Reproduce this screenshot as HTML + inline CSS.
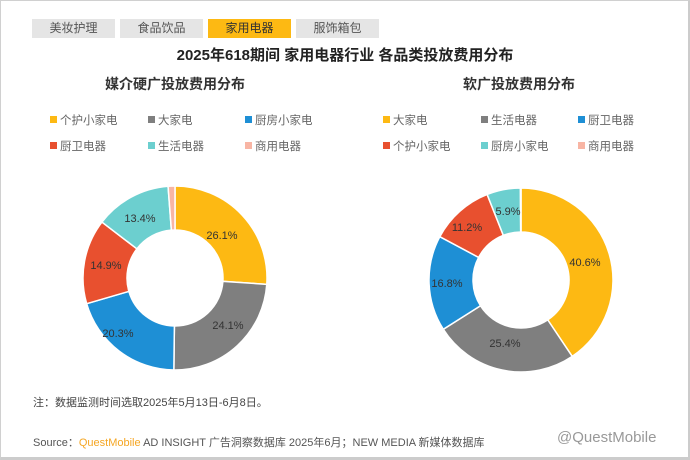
<!DOCTYPE html>
<html><head><meta charset="utf-8"><style>
body{margin:0;width:690px;height:460px;background:#fff;overflow:hidden;font-family:"Liberation Sans","Noto Sans CJK SC",sans-serif;position:relative}
.frame{position:absolute;left:0;top:0;width:687px;height:456px;border:1px solid #d0d0d0;border-right:3px solid #ccc;border-bottom:3px solid #ccc}
.t{position:absolute;white-space:nowrap}
.tab{position:absolute;top:19px;width:83px;height:19px;background:#e5e5e5;color:#555;font-size:12px;text-align:center;line-height:19px}
.lg{position:absolute;font-size:11.5px;color:#666;white-space:nowrap}
.lg i{display:inline-block;width:7px;height:7px;margin-right:3px;vertical-align:1px}
</style></head><body>
<div class="frame"></div>
<div class="tab" style="left:32px">美妆护理</div>
<div class="tab" style="left:120px">食品饮品</div>
<div class="tab" style="left:208px;background:#FDB913;color:#333">家用电器</div>
<div class="tab" style="left:296px">服饰箱包</div>
<div class="t" style="left:0;width:690px;text-align:center;top:44px;font-size:15px;color:#222;font-weight:600">2025年618期间 家用电器行业 各品类投放费用分布</div>
<div class="t" style="left:105px;top:74px;font-size:14px;color:#333;font-weight:600">媒介硬广投放费用分布</div>
<div class="t" style="left:463px;top:74px;font-size:14px;color:#333;font-weight:600">软广投放费用分布</div>
<div class="lg" style="left:50px;top:112px"><i style="background:#FDB913"></i>个护小家电</div>
<div class="lg" style="left:148px;top:112px"><i style="background:#7f7f7f"></i>大家电</div>
<div class="lg" style="left:245px;top:112px"><i style="background:#1E8FD5"></i>厨房小家电</div>
<div class="lg" style="left:50px;top:138px"><i style="background:#E8502F"></i>厨卫电器</div>
<div class="lg" style="left:148px;top:138px"><i style="background:#6CCFCF"></i>生活电器</div>
<div class="lg" style="left:245px;top:138px"><i style="background:#F8B5A4"></i>商用电器</div>
<div class="lg" style="left:383px;top:112px"><i style="background:#FDB913"></i>大家电</div>
<div class="lg" style="left:481px;top:112px"><i style="background:#7f7f7f"></i>生活电器</div>
<div class="lg" style="left:578px;top:112px"><i style="background:#1E8FD5"></i>厨卫电器</div>
<div class="lg" style="left:383px;top:138px"><i style="background:#E8502F"></i>个护小家电</div>
<div class="lg" style="left:481px;top:138px"><i style="background:#6CCFCF"></i>厨房小家电</div>
<div class="lg" style="left:578px;top:138px"><i style="background:#F8B5A4"></i>商用电器</div>
<svg id="s" width="690" height="460" style="position:absolute;left:0;top:0" font-family="Liberation Sans, sans-serif" font-size="11" fill="#333"></svg>
<div class="t" style="left:33px;top:394px;font-size:11px;color:#444">注：数据监测时间选取2025年5月13日-6月8日。</div>
<div class="t" style="left:33px;top:434px;font-size:11px;color:#555">Source：<span style="color:#F5A623">QuestMobile</span> AD INSIGHT 广告洞察数据库 2025年6月；NEW MEDIA 新媒体数据库</div>
<div class="t" style="left:557px;top:429px;font-size:15px;color:#999">@QuestMobile</div>
<script>
var s=document.getElementById('s'),C=['#FDB913','#7f7f7f','#1E8FD5','#E8502F','#6CCFCF','#F8B5A4'];
function d(cx,cy,R,r,v,labels){var a=0,h='';for(var i=0;i<v.length;i++){var b=a+v[i]/100*2*Math.PI;
function p(rr,t){return [cx+rr*Math.sin(t),cy-rr*Math.cos(t)]}
var A=p(R,a),B=p(R,b),c=p(r,b),D=p(r,a),l=(b-a)>Math.PI?1:0;
h+='<path d="M'+A+' A'+R+','+R+' 0 '+l+' 1 '+B+' L'+c+' A'+r+','+r+' 0 '+l+' 0 '+D+'Z" fill="'+C[i]+'" stroke="#fff" stroke-width="1.5"/>';a=b;}
labels.forEach(function(L){h+='<text x="'+L[0]+'" y="'+L[1]+'" text-anchor="middle">'+L[2]+'</text>'});s.innerHTML+=h;}
d(175,278,92,48,[26.1,24.1,20.3,14.9,13.4,1.2],[[222,239,'26.1%'],[228,329,'24.1%'],[118,337,'20.3%'],[106,269,'14.9%'],[140,222,'13.4%']]);
d(521,280,92,48,[40.6,25.4,16.8,11.2,5.9,0.1],[[585,266,'40.6%'],[505,347,'25.4%'],[447,287,'16.8%'],[467,231,'11.2%'],[508,215,'5.9%']]);
</script>
</body></html>
